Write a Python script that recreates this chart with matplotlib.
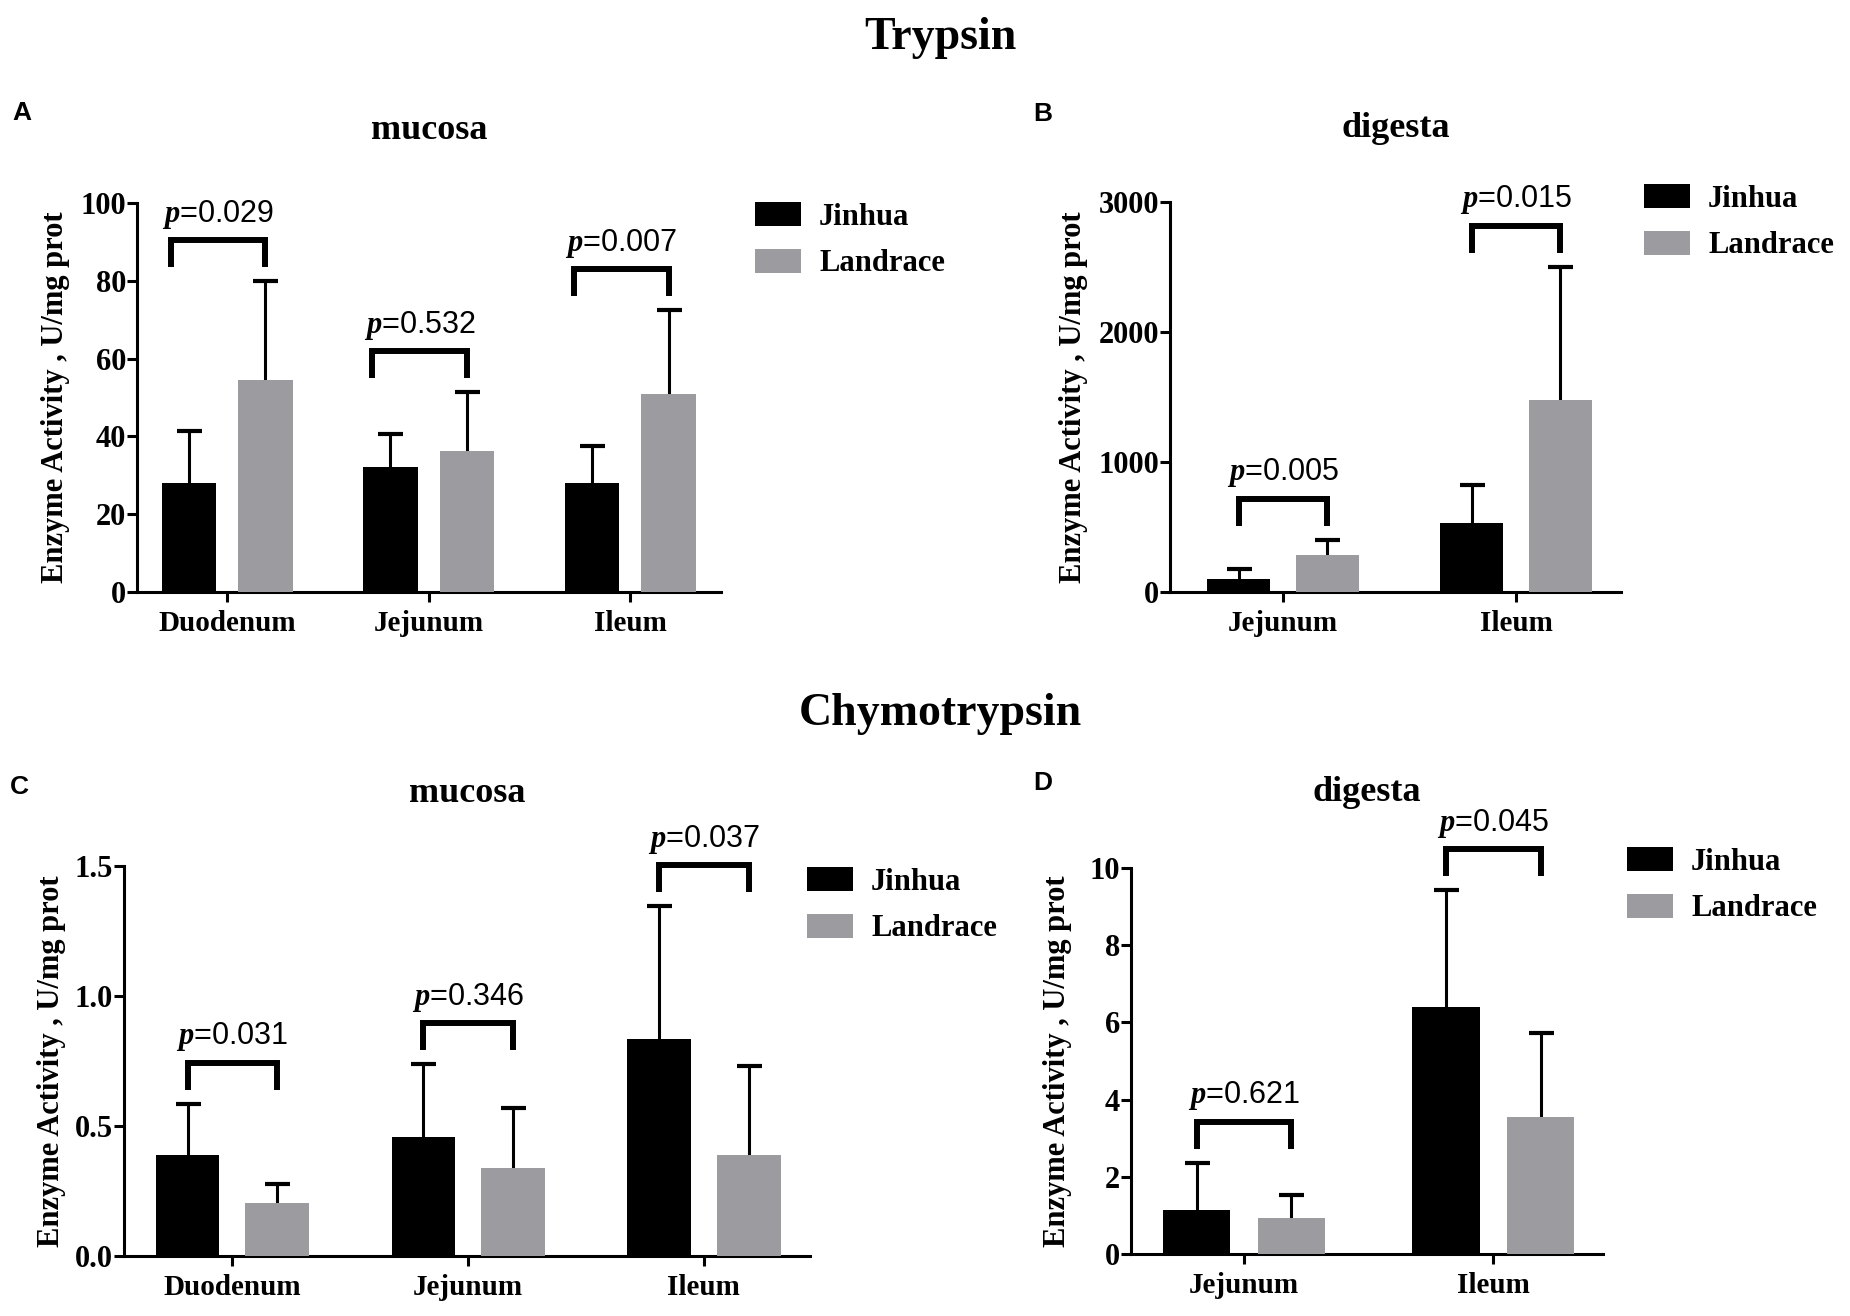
import numpy as np
import matplotlib
matplotlib.use('Agg')
import matplotlib.pyplot as plt

plt.rcParams['font.family'] = 'Liberation Serif'
plt.rcParams['font.weight'] = 'bold'
plt.rcParams['axes.labelweight'] = 'bold'
plt.rcParams['mathtext.fontset'] = 'custom'
plt.rcParams['mathtext.it'] = 'Liberation Serif:italic:bold'
plt.rcParams['mathtext.rm'] = 'Liberation Serif:bold'

# Tripsina - mucosa (A)
cats_A = ['Duodenum', 'Jejunum', 'Ileum']
jin_A = [27.9, 32.2, 27.9]
jin_A_err = [13.5, 8.4, 9.7]
lan_A = [54.5, 36.2, 50.8]
lan_A_err = [25.4, 15.2, 21.6]
p_A = ['0.029', '0.532', '0.007']

# Tripsina - digesta (B)
cats_B = ['Jejunum', 'Ileum']
jin_B = [99, 532]
jin_B_err = [75, 290]
lan_B = [284, 1475]
lan_B_err = [119, 1028]
p_B = ['0.005', '0.015']

# Quimotripsina - mucosa (C)
cats_C = ['Duodenum', 'Jejunum', 'Ileum']
jin_C = [0.387, 0.458, 0.834]
jin_C_err = [0.199, 0.279, 0.512]
lan_C = [0.202, 0.340, 0.387]
lan_C_err = [0.075, 0.231, 0.343]
p_C = ['0.031', '0.346', '0.037']

# Quimotripsina - digesta (D)
cats_D = ['Jejunum', 'Ileum']
jin_D = [1.14, 6.40]
jin_D_err = [1.23, 3.02]
lan_D = [0.92, 3.55]
lan_D_err = [0.61, 2.18]
p_D = ['0.621', '0.045']

yticks_A = [0, 20, 40, 60, 80, 100]
yticks_B = [0, 1000, 2000, 3000]
yticks_C = [0.0, 0.5, 1.0, 1.5]
ytick_labels_C = ['0.0', '0.5', '1.0', '1.5']
yticks_D = [0, 2, 4, 6, 8, 10]

W, H = 1850, 1316
GRAY = '#9c9ca0'
fig = plt.figure(figsize=(W / 100, H / 100), dpi=100)


def px_box(left, top, right, bottom):
    return [left / W, 1 - bottom / H, (right - left) / W, (bottom - top) / H]


def draw_panel(box, cats, jin, jin_err, lan, lan_err, pvals, yticks, ytick_labels,
               xlim, label_x, legend_at, title, title_y, letter, letter_xy,
               bracket_left=0.0):
    ax = fig.add_axes(px_box(*box))
    x = np.arange(len(cats))
    w, off = 0.27, 0.19
    ax.bar(x - off, jin, w, color='black', label='Jinhua', zorder=3)
    ax.bar(x + off, lan, w, color=GRAY, label='Landrace', zorder=3)
    ax.errorbar(x - off, jin, yerr=jin_err, fmt='none', ecolor='black',
                elinewidth=2.2, capsize=9, capthick=3, zorder=2)
    ax.errorbar(x + off, lan, yerr=lan_err, fmt='none', ecolor='black',
                elinewidth=2.2, capsize=9, capthick=3, zorder=2)

    ymax = yticks[-1]
    ax.set_ylim(0, ymax)
    ax.set_xlim(*xlim)
    ax.set_yticks(yticks)
    ax.set_yticklabels(ytick_labels)
    ax.set_xticks(x)
    ax.set_xticklabels(cats)
    ax.spines['top'].set_visible(False)
    ax.spines['right'].set_visible(False)
    for s in ('left', 'bottom'):
        ax.spines[s].set_linewidth(2.2)
    ax.tick_params(axis='both', direction='out', length=7, width=2.2)
    ax.tick_params(axis='y', labelsize=22, pad=1)
    ax.tick_params(axis='x', labelsize=21, pad=6)

    ax.set_ylabel('Enzyme Activity , U/mg prot', fontsize=22, va='center',
                  weight='bold')
    ax.yaxis.set_label_coords(label_x, 0.5)

    # corchetes con valor p
    px = ymax / (box[3] - box[1])
    for i in range(len(x)):
        top_err = max(jin[i] + jin_err[i], lan[i] + lan_err[i])
        yb = top_err + 14 * px
        yt = yb + 27 * px
        xl = x[i] - off + bracket_left
        xr = x[i] + off
        ax.plot([xl, xl, xr, xr], [yb, yt, yt, yb],
                color='black', lw=4.3, clip_on=False,
                solid_joinstyle='miter', solid_capstyle='butt')
        ax.text((xl + xr) / 2, yt + 26 * px, '$p$=' + pvals[i], ha='center', va='center',
                fontsize=22, family='Liberation Sans', weight='normal', clip_on=False)

    ax.legend(loc='upper left', bbox_to_anchor=(legend_at[0] / W, 1 - legend_at[1] / H),
              bbox_transform=fig.transFigure, frameon=False, borderpad=0,
              borderaxespad=0, handlelength=1.5, handleheight=0.85,
              handletextpad=0.6, labelspacing=0.55,
              prop={'family': 'Liberation Serif', 'weight': 'bold', 'size': 22})

    cx = (box[0] + box[2]) / 2
    fig.text(cx / W, 1 - title_y / H, title, ha='center', va='baseline', fontsize=26)
    fig.text(letter_xy[0] / W, 1 - letter_xy[1] / H, letter, ha='left', va='baseline',
             fontsize=19, family='Liberation Sans', weight='bold')
    return ax


draw_panel((137, 203, 721, 592), cats_A, jin_A, jin_A_err, lan_A, lan_A_err, p_A,
           yticks_A, [str(v) for v in yticks_A], (-0.447, 2.45), -0.139,
           (755, 202), 'mucosa', 139, 'A', (12, 120), bracket_left=-0.09)
draw_panel((1170, 202, 1621, 592), cats_B, jin_B, jin_B_err, lan_B, lan_B_err, p_B,
           yticks_B, [str(v) for v in yticks_B], (-0.485, 1.45), -0.213,
           (1644, 184), 'digesta', 137, 'B', (1033, 121))
draw_panel((124, 866, 810, 1256), cats_C, jin_C, jin_C_err, lan_C, lan_C_err, p_C,
           yticks_C, ytick_labels_C, (-0.46, 2.45), -0.105,
           (807, 867), 'mucosa', 802, 'C', (10, 794))
draw_panel((1131, 868, 1603, 1254), cats_D, jin_D, jin_D_err, lan_D, lan_D_err, p_D,
           yticks_D, [str(v) for v in yticks_D], (-0.454, 1.44), -0.155,
           (1627, 847), 'digesta', 801, 'D', (1033, 790))

fig.text(940 / W, 1 - 49 / H, 'Trypsin', ha='center', va='baseline', fontsize=33)
fig.text(940 / W, 1 - 725 / H, 'Chymotrypsin', ha='center', va='baseline', fontsize=33)

fig.savefig('out.png', dpi=100, facecolor='white')
